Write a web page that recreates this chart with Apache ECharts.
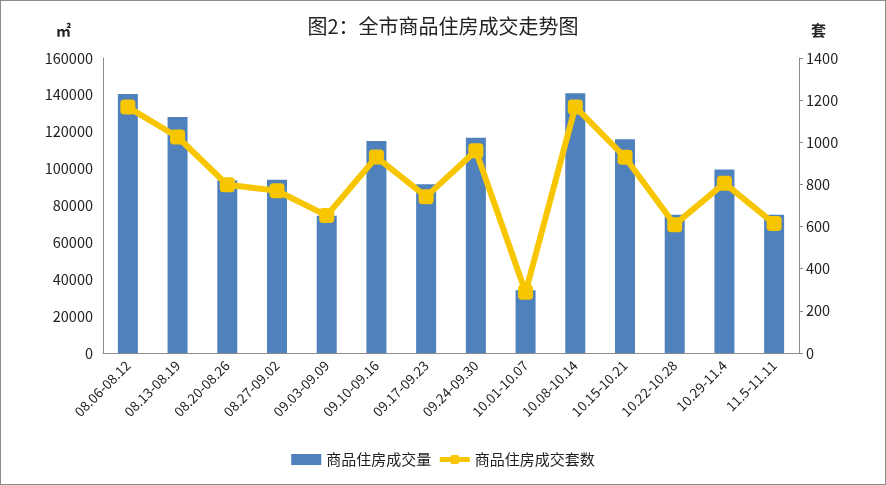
<!DOCTYPE html>
<html><head><meta charset="utf-8">
<script src="https://cdn.jsdelivr.net/npm/echarts@6/dist/echarts.min.js"></script>
<style>html,body{margin:0;padding:0;background:#fff}#c{width:886px;height:485px;box-sizing:border-box;border:1px solid #8c8c8c}</style>
</head><body><div id="c"></div>
<script>
const categories = ['08.06-08.12','08.13-08.19','08.20-08.26','08.27-09.02','09.03-09.09','09.10-09.16','09.17-09.23','09.24-09.30','10.01-10.07','10.08-10.14','10.15-10.21','10.22-10.28','10.29-11.4','11.5-11.11'];
const areaValues = [140500, 128000, 93500, 94000, 74500, 115000, 91500, 116800, 34000, 140900, 116000, 75000, 99500, 75000];
const unitValues = [1167, 1025, 798, 770, 652, 930, 742, 960, 288, 1168, 929, 609, 806, 614];
const titleText = '图2：全市商品住房成交走势图';
const seriesNames = ['商品住房成交量', '商品住房成交套数'];
const leftUnit = '㎡';
const rightUnit = '套';

const font = '"Noto Sans CJK SC", "Noto Sans", sans-serif';
const chart = echarts.init(document.getElementById('c'));
chart.setOption({
  animation: false,
  textStyle: {fontFamily: font},
  title: {text: titleText, left: 'center', top: 10, textStyle: {fontSize: 20, fontWeight: 'normal', color: '#222', fontFamily: font}},
  grid: {left: 102, right: 86, top: 57, bottom: 131, containLabel: false},
  legend: {
    bottom: 12, left: 'center', itemGap: 6, itemWidth: 30, itemHeight: 11,
    textStyle: {fontSize: 15, color: '#222', fontFamily: font},
    data: [{name: seriesNames[0], icon: 'rect'}, {name: seriesNames[1], lineStyle: {width: 5}}]
  },
  xAxis: {
    type: 'category', data: categories,
    axisLine: {lineStyle: {color: '#8c8c8c', width: 1}},
    axisTick: {show: false},
    axisLabel: {rotate: 45, color: '#222', fontSize: 13.5, margin: 10, interval: 0, fontFamily: font}
  },
  yAxis: [
    {type: 'value', min: 0, max: 160000, interval: 20000, name: leftUnit, nameLocation: 'end', nameGap: 20,
     nameTextStyle: {fontSize: 15, color: '#222', fontWeight: 'bold', align: 'right', padding: [0, 32, 0, 0]},
     axisLine: {show: true, lineStyle: {color: '#8c8c8c'}}, axisTick: {show: false}, splitLine: {show: false},
     axisLabel: {color: '#222', fontSize: 14.5, margin: 10, fontFamily: font, formatter: v => String(v)}},
    {type: 'value', min: 0, max: 1400, interval: 200, name: rightUnit, nameLocation: 'end', nameGap: 20,
     nameTextStyle: {fontSize: 15, color: '#222', fontWeight: 'bold', align: 'left', padding: [0, 0, 0, 12]},
     axisLine: {show: true, lineStyle: {color: '#8c8c8c'}}, axisTick: {show: true, length: 4, lineStyle: {color: '#8c8c8c'}}, splitLine: {show: false},
     axisLabel: {color: '#222', fontSize: 14.5, margin: 7, fontFamily: font, formatter: v => String(v)}}
  ],
  series: [
    {name: seriesNames[0], type: 'bar', data: areaValues, yAxisIndex: 0, barWidth: 20,
     itemStyle: {color: '#4f81bd'}},
    {name: seriesNames[1], type: 'line', data: unitValues, yAxisIndex: 1,
     symbol: 'roundRect', symbolSize: 15,
     lineStyle: {color: '#f7c600', width: 6},
     itemStyle: {color: '#f7c600'}}
  ]
});
</script></body></html>
